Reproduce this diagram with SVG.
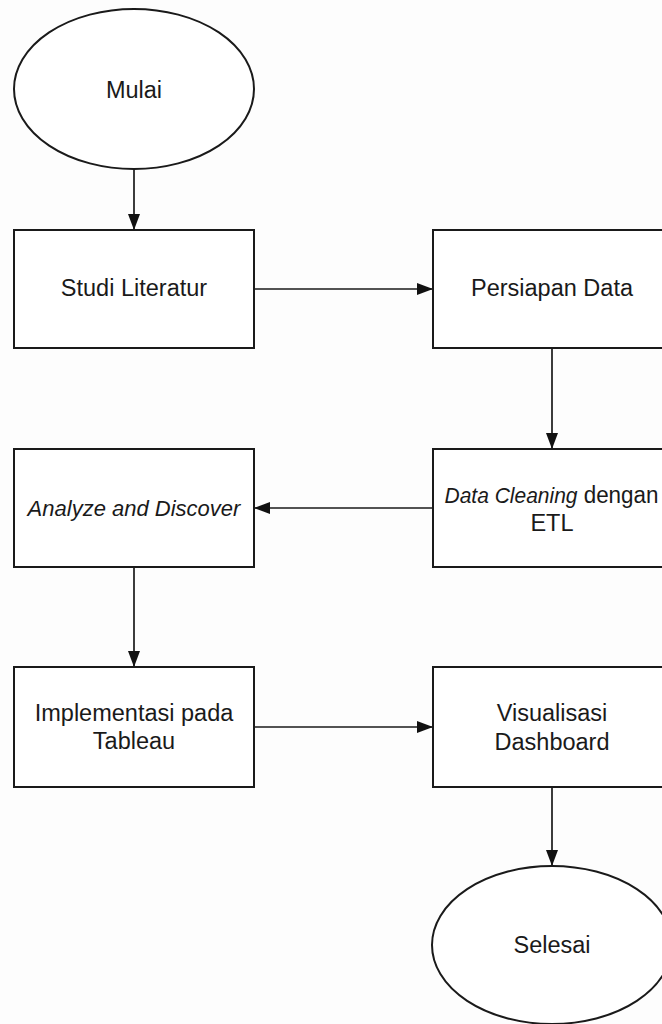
<svg xmlns="http://www.w3.org/2000/svg" width="662" height="1024" viewBox="0 0 662 1024">
<defs>
<marker id="arrow" viewBox="0 0 16 12" refX="16" refY="6" markerWidth="16" markerHeight="12" markerUnits="userSpaceOnUse" orient="auto">
<path d="M0,0 L16,6 L0,12 z" fill="#111"/>
</marker>
</defs>
<style>
.shape{fill:#fff;stroke:#1a1a1a;stroke-width:2}
.t{font-family:"Liberation Sans",Arial,sans-serif;font-size:23.5px;fill:#1a1a1a;text-anchor:middle}
.it{font-style:italic;font-size:22px}
.conn{stroke:#1a1a1a;stroke-width:1.7;fill:none;marker-end:url(#arrow)}
</style>
<rect x="0" y="0" width="662" height="1024" fill="#fdfdfd"/>
<g id="connectors">
<line class="conn" x1="134" y1="169" x2="134" y2="230"/>
<line class="conn" x1="254" y1="289" x2="433" y2="289"/>
<line class="conn" x1="552" y1="348" x2="552" y2="449"/>
<line class="conn" x1="433" y1="508" x2="254" y2="508"/>
<line class="conn" x1="134" y1="567" x2="134" y2="667"/>
<line class="conn" x1="254" y1="727" x2="433" y2="727"/>
<line class="conn" x1="552" y1="787" x2="552" y2="866"/>
</g>
<g id="mulai">
<ellipse class="shape" cx="134" cy="89" rx="120" ry="80"/>
<text class="t" x="134" y="98">Mulai</text>
</g>
<g id="studi-literatur">
<rect class="shape" x="14" y="230" width="240" height="118"/>
<text class="t" x="134" y="296">Studi Literatur</text>
</g>
<g id="persiapan-data">
<rect class="shape" x="433" y="230" width="240" height="118"/>
<text class="t" x="552" y="296">Persiapan Data</text>
</g>
<g id="data-cleaning">
<rect class="shape" x="433" y="449" width="240" height="118"/>
<text class="t" x="551.5" y="503" textLength="214" lengthAdjust="spacingAndGlyphs"><tspan class="it">Data Cleaning</tspan> dengan</text>
<text class="t" x="552" y="531">ETL</text>
</g>
<g id="analyze">
<rect class="shape" x="14" y="449" width="240" height="118"/>
<text class="t it" x="134" y="516">Analyze and Discover</text>
</g>
<g id="implementasi">
<rect class="shape" x="14" y="667" width="240" height="120"/>
<text class="t" x="134" y="721">Implementasi pada</text>
<text class="t" x="134" y="749">Tableau</text>
</g>
<g id="visualisasi">
<rect class="shape" x="433" y="667" width="240" height="120"/>
<text class="t" x="552" y="721">Visualisasi</text>
<text class="t" x="552" y="750">Dashboard</text>
</g>
<g id="selesai">
<ellipse class="shape" cx="552" cy="945" rx="120" ry="79"/>
<text class="t" x="552" y="953">Selesai</text>
</g>
</svg>
